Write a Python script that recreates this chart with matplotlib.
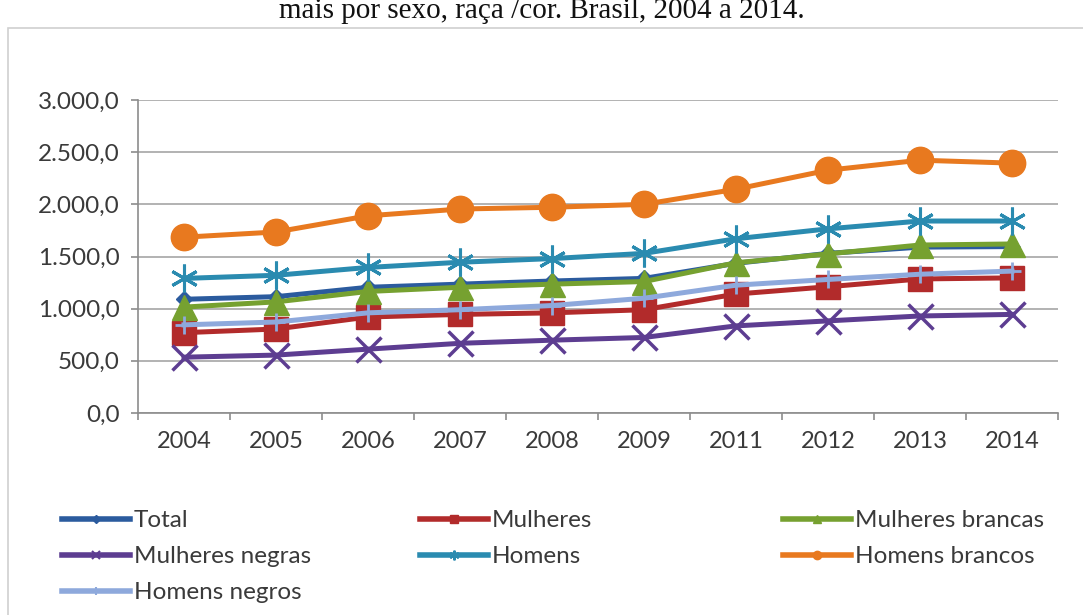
import matplotlib
matplotlib.use("Agg")
import matplotlib.pyplot as plt
from matplotlib.lines import Line2D
from matplotlib.patches import Rectangle
from matplotlib.ticker import FuncFormatter, FixedLocator

YEARS = ["2004", "2005", "2006", "2007", "2008", "2009", "2011", "2012", "2013", "2014"]

TOTAL = [1090, 1115, 1205, 1235, 1265, 1290, 1435, 1530, 1590, 1595]
MULHERES = [770, 805, 920, 945, 960, 990, 1140, 1210, 1285, 1295]
MULHERES_BRANCAS = [1015, 1065, 1165, 1205, 1235, 1260, 1440, 1525, 1610, 1620]
MULHERES_NEGRAS = [535, 555, 612, 668, 698, 724, 835, 883, 930, 945]
HOMENS = [1290, 1320, 1395, 1445, 1480, 1530, 1670, 1765, 1840, 1840]
HOMENS_BRANCOS = [1685, 1735, 1890, 1955, 1972, 2000, 2145, 2327, 2423, 2395]
HOMENS_NEGROS = [845, 872, 960, 990, 1030, 1100, 1225, 1280, 1330, 1360]

W, H = 1083, 615
FONT = "Lato"
TXT = "#3a3a3a"

# name, values, color, marker, markersize, marker edge width, legend marker size
SERIES = [
    ("Total", TOTAL, "#2b5b9e", "D", 8, 1, 4),
    ("Mulheres", MULHERES, "#b22b2b", "s", 17, 1, 6),
    ("Mulheres brancas", MULHERES_BRANCAS, "#76a130", "^", 18, 1, 6),
    ("Mulheres negras", MULHERES_NEGRAS, "#5d3d91", "x", 18, 2.5, 6),
    ("Homens", HOMENS, "#2a8bb0", (6, 2, 0), 20, 2.2, 7),
    ("Homens brancos", HOMENS_BRANCOS, "#e8791f", "o", 19, 1, 6),
    ("Homens negros", HOMENS_NEGROS, "#8ea9dc", "+", 13, 2, 6),
]

fig = plt.figure(figsize=(W / 100, H / 100), dpi=100)

# outer chart frame (runs off the right/bottom edge)
fig.patches.append(Rectangle((8 / W, -0.05), 1.1, 1 - 28 / H + 0.05,
                             transform=fig.transFigure, fill=False,
                             edgecolor="#d0d0d0", linewidth=1.2))

# caption line continued from the previous line of the page
fig.text(542 / W, 1 - 18 / H, "mais por sexo, raça /cor. Brasil, 2004 a 2014.",
         ha="center", va="baseline", fontsize=21, family="Liberation Serif",
         color="#111111")

ax = fig.add_axes([138 / W, (H - 413) / H, 920 / W, 313 / H])
x = list(range(len(YEARS)))

for name, vals, color, marker, ms, mew, _ in SERIES:
    ax.plot(x, vals, color=color, lw=3.6, marker=marker, markersize=ms,
            markerfacecolor=color, markeredgecolor=color, markeredgewidth=mew,
            solid_joinstyle="round", label=name)

ax.set_xlim(-0.5, len(YEARS) - 0.5)
ax.set_ylim(0, 3000)
ax.set_yticks(range(0, 3001, 500))
ax.yaxis.set_major_formatter(FuncFormatter(
    lambda v, _: f"{v:,.1f}".replace(",", "X").replace(".", ",").replace("X", ".")))
ax.set_xticks(x)
ax.set_xticklabels(YEARS)
ax.xaxis.set_minor_locator(FixedLocator([i - 0.5 for i in range(len(YEARS) + 1)]))

ax.grid(axis="y", color="#a6a6a6", linewidth=1.2)
ax.set_axisbelow(True)
for side in ("top", "right"):
    ax.spines[side].set_visible(False)
for side in ("left", "bottom"):
    ax.spines[side].set_color("#8c8c8c")
    ax.spines[side].set_linewidth(1.2)

ax.tick_params(axis="y", length=5, width=1.2, color="#8c8c8c", pad=8,
               labelsize=17.5, labelcolor=TXT)
ax.tick_params(axis="x", which="major", length=0, pad=13, labelsize=17,
               labelcolor=TXT)
ax.tick_params(axis="x", which="minor", length=5, width=1.2, color="#8c8c8c")
for lbl in ax.get_xticklabels() + ax.get_yticklabels():
    lbl.set_family(FONT)

# legend laid out row by row in three fixed-width columns
handles = {name: Line2D([], [], color=color, lw=4, marker=marker, markersize=lms,
                        markerfacecolor=color, markeredgecolor=color,
                        markeredgewidth=min(mew, 1.5))
           for name, _, color, marker, _, mew, lms in SERIES}
columns = [
    (62, ["Total", "Mulheres negras", "Homens negros"]),
    (420, ["Mulheres", "Homens"]),
    (783, ["Mulheres brancas", "Homens brancos"]),
]
for x0, names in columns:
    fig.legend([handles[n] for n in names], names, loc="upper left",
               bbox_to_anchor=(x0 / W, 1 - 510 / H), frameon=False,
               prop={"family": FONT, "size": 17.5}, labelcolor=TXT,
               handlelength=2.8, handletextpad=0.15, labelspacing=0.62,
               borderpad=0, borderaxespad=0, numpoints=1)

fig.savefig("out.png", dpi=100)
